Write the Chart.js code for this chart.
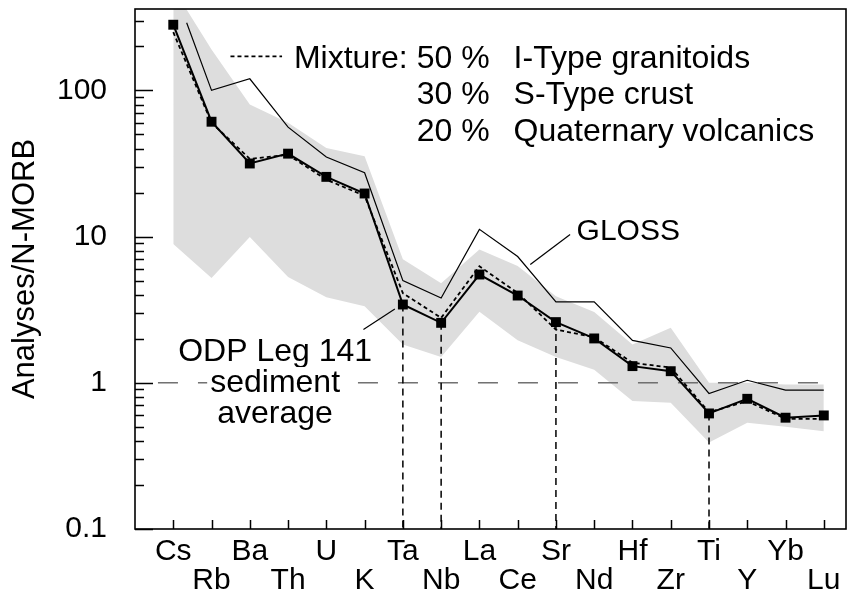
<!DOCTYPE html>
<html>
<head>
<meta charset="utf-8">
<script src="https://cdn.jsdelivr.net/npm/chart.js@4/dist/chart.umd.min.js"></script>
<style>
  html, body { margin: 0; padding: 0; background: #ffffff; }
  #wrap { width: 853px; height: 595px; position: relative; }
</style>
</head>
<body>
<div id="wrap"><canvas id="c" width="853" height="595"></canvas></div>
<script>
// ---- data ----
const elements = ['Cs','Rb','Ba','Th','U','K','Ta','Nb','La','Ce','Sr','Nd','Hf','Zr','Ti','Y','Yb','Lu'];
const odpAverage = [281, 61, 31.6, 36.9, 25.6, 19.7, 3.43, 2.57, 5.5, 3.95, 2.6, 2.01, 1.30, 1.20, 0.617, 0.777, 0.577, 0.598];
const mixture    = [250, 60, 34, 36.2, 24.5, 19.0, 4.1, 2.78, 6.27, 4.12, 2.31, 2.05, 1.37, 1.27, 0.63, 0.748, 0.567, 0.567];
const glossPositions = [0.35, 1, 2, 3, 4, 5, 6, 7, 8, 9, 10, 11, 12, 13, 14, 15, 16, 17];
const glossValues    = [290, 100, 120, 56, 35, 27.3, 5.0, 3.8, 11.2, 7.3, 3.58, 3.58, 1.95, 1.73, 0.845, 1.04, 0.89, 0.89];
const rangeUpper = [500, 190, 80, 60, 40.4, 35.4, 7.0, 4.8, 8.15, 6.3, 3.9, 3.05, 1.83, 2.38, 1.0, 1.0, 0.975, 0.975];
const rangeLower = [8.9, 5.2, 9.95, 5.3, 3.85, 3.34, 1.83, 1.5, 3.06, 1.95, 1.5, 1.23, 0.75, 0.73, 0.39, 0.533, 0.5, 0.467];
const dropLineElements = ['Ta', 'Nb', 'Sr', 'Ti'];
const yTickValues = [0.1, 1, 10, 100];
const yTickLabels = ['0.1', '1', '10', '100'];
const referenceValue = 1;
const referenceSpan = [-0.4, 17.28];
const yMin = 0.1, yMax = 360;
const xMin = -1, xMax = 17.58;

const FONT = "'Liberation Sans', Arial, Helvetica, sans-serif";
const FS_LEG = 32;  // legend text
const FS_ODP = 32;  // ODP label
const FS_GL = 30;   // GLOSS label
const FS_Y = 30;    // y tick labels
const FS_T = 31;    // y title
const FS_X = 30;    // x tick labels

function pts(xs, ys) { return ys.map((v, i) => ({ x: xs[i], y: v })); }
const idx = elements.map((e, i) => i);

const datasets = [
  { label: 'upper', data: pts(idx, rangeUpper), fill: '+1', backgroundColor: '#dddddd',
    borderWidth: 0, borderColor: 'rgba(0,0,0,0)', pointRadius: 0, order: 20 },
  { label: 'lower', data: pts(idx, rangeLower), fill: false,
    borderWidth: 0, borderColor: 'rgba(0,0,0,0)', pointRadius: 0, order: 21 },
  { label: 'ref', data: referenceSpan.map(x => ({ x, y: referenceValue })), borderColor: '#666666',
    borderWidth: 1.4, borderDash: [20, 20], pointRadius: 0, fill: false, order: 15 }
];
dropLineElements.forEach(name => {
  const i = elements.indexOf(name);
  datasets.push({ label: 'drop ' + name, data: [{ x: i, y: odpAverage[i] }, { x: i, y: yMin }],
    borderColor: '#000', borderWidth: 1.5, borderDash: [7, 5], pointRadius: 0, fill: false, order: 12 });
});
datasets.push(
  { label: 'GLOSS', data: pts(glossPositions, glossValues), borderColor: '#000', borderWidth: 1.2,
    pointRadius: 0, fill: false, order: 8 },
  { label: 'Mixture', data: pts(idx, mixture), borderColor: '#000', borderWidth: 1.8, borderDash: [4, 3],
    pointRadius: 0, fill: false, order: 6 },
  { label: 'ODP Leg 141 sediment average', data: pts(idx, odpAverage), borderColor: '#000', borderWidth: 2,
    pointStyle: 'rect', pointRadius: 7, pointBackgroundColor: '#000', pointBorderColor: '#000', pointBorderWidth: 0,
    fill: false, order: 4 }
);

// annotation anchors in data space (x = element index, y = value)
const legendPercents = ['50 %', '30 %', '20 %'];
const legendNames = ['I-Type granitoids', 'S-Type crust', 'Quaternary volcanics'];
const notes = {
  legendLine: [[1.495, 170.8], [2.843, 170.8]],
  legendStart: 3.154,
  legendBaselines: [142.3, 80.1, 45.1],
  glossLine: [[10.37, 10.32], [9.33, 6.44]],
  glossText: { x: 10.539, y: 9.54, t: 'GLOSS' },
  odpLine: [[4.97, 2.31], [5.79, 3.2]],
  odpCenter: 2.661,
  odpText: [{ y: 1.42, t: 'ODP Leg 141' }, { y: 0.865, t: 'sediment' }, { y: 0.527, t: 'average' }]
};

const decoPlugin = {
  id: 'deco',
  afterDatasetsDraw(chart) {
    const { ctx, chartArea: a, scales: { x, y } } = chart;
    ctx.save();
    ctx.strokeStyle = '#000'; ctx.lineWidth = 1.5;
    ctx.beginPath();
    for (let p = -1; p <= 2; p++) {
      for (let m = 1; m <= 9; m++) {
        const v = m * Math.pow(10, p);
        if (v < yMin - 1e-9 || v > yMax) continue;
        const py = Math.round(y.getPixelForValue(v)) + 0.5;
        const len = m === 1 ? 18 : 9;
        ctx.moveTo(a.left, py); ctx.lineTo(a.left + len, py);
      }
    }
    elements.forEach((e, i) => {
      const px = Math.round(x.getPixelForValue(i)) + 0.5;
      ctx.moveTo(px, a.bottom); ctx.lineTo(px, a.bottom - 9);
    });
    ctx.stroke();
    ctx.lineWidth = 1.6;
    ctx.strokeRect(a.left, a.top, a.right - a.left, a.bottom - a.top);

    const P = (pt) => [x.getPixelForValue(pt[0]), y.getPixelForValue(pt[1])];
    ctx.fillStyle = '#000';
    ctx.textBaseline = 'alphabetic';
    // legend sample line
    ctx.lineWidth = 1.8; ctx.setLineDash([4, 3]);
    ctx.beginPath();
    let s = P(notes.legendLine[0]), e2 = P(notes.legendLine[1]);
    ctx.moveTo(s[0], s[1]); ctx.lineTo(e2[0], e2[1]); ctx.stroke();
    ctx.setLineDash([]);
    // legend text in columns
    ctx.font = FS_LEG + 'px ' + FONT;
    ctx.textAlign = 'left';
    const x0 = x.getPixelForValue(notes.legendStart);
    const xPct = x0 + ctx.measureText('Mixture: ').width;
    const xName = xPct + ctx.measureText('50 %').width + 24;
    notes.legendBaselines.forEach((v, r) => {
      const py = y.getPixelForValue(v);
      if (r === 0) ctx.fillText('Mixture:', x0, py);
      ctx.fillText(legendPercents[r], xPct, py);
      ctx.fillText(legendNames[r], xName, py);
    });
    // GLOSS label + leader
    ctx.lineWidth = 1.2;
    ctx.beginPath();
    s = P(notes.glossLine[0]); e2 = P(notes.glossLine[1]);
    ctx.moveTo(s[0], s[1]); ctx.lineTo(e2[0], e2[1]); ctx.stroke();
    ctx.font = FS_GL + 'px ' + FONT;
    let q = P([notes.glossText.x, notes.glossText.y]);
    ctx.fillText(notes.glossText.t, q[0], q[1]);
    // ODP label + leader
    ctx.beginPath();
    s = P(notes.odpLine[0]); e2 = P(notes.odpLine[1]);
    ctx.moveTo(s[0], s[1]); ctx.lineTo(e2[0], e2[1]); ctx.stroke();
    ctx.font = FS_ODP + 'px ' + FONT;
    ctx.textAlign = 'center';
    const cx = x.getPixelForValue(notes.odpCenter);
    notes.odpText.forEach(n => {
      const py = y.getPixelForValue(n.y);
      const w = ctx.measureText(n.t).width;
      ctx.fillStyle = '#fff';
      ctx.fillRect(cx - w / 2 - 3, py - FS_ODP * 0.78, w + 6, FS_ODP * 1.0);
      ctx.fillStyle = '#000';
      ctx.fillText(n.t, cx, py);
    });
    ctx.restore();
  }
};

Chart.defaults.font.family = FONT;
Chart.defaults.color = '#000';

new Chart(document.getElementById('c'), {
  type: 'line',
  data: { datasets },
  options: {
    responsive: false,
    animation: false,
    layout: { padding: { top: 9, right: 2, left: 0, bottom: 0 } },
    plugins: { legend: { display: false }, tooltip: { enabled: false } },
    elements: { line: { tension: 0 } },
    scales: {
      x: {
        type: 'linear', min: xMin, max: xMax,
        grid: { display: false, drawTicks: false },
        border: { display: false },
        afterBuildTicks: (sc) => { sc.ticks = elements.map((e, i) => ({ value: i })); },
        afterFit: (sc) => { sc.height = 66; sc.paddingLeft = 0; sc.paddingRight = 0; },
        ticks: {
          autoSkip: false, maxRotation: 0, padding: 8,
          font: { size: FS_X, lineHeight: 0.98 },
          callback: (v) => { const i = Math.round(v); return i % 2 === 0 ? [elements[i]] : ['', elements[i]]; }
        }
      },
      y: {
        type: 'logarithmic', min: yMin, max: yMax,
        grid: { display: false, drawTicks: false },
        border: { display: false },
        afterBuildTicks: (sc) => { sc.ticks = yTickValues.map(v => ({ value: v })); },
        afterFit: (sc) => { sc.width = 135; sc.paddingTop = 0; sc.paddingBottom = 0; },
        ticks: {
          autoSkip: false, padding: 28, font: { size: FS_Y },
          callback: (v) => { const k = yTickValues.findIndex(t => Math.abs(t - v) < 1e-9); return k >= 0 ? yTickLabels[k] : ''; }
        },
        title: { display: true, text: 'Analyses/N-MORB', font: { size: FS_T }, padding: { top: 7, bottom: 0 } }
      }
    }
  },
  plugins: [decoPlugin]
});
</script>
</body>
</html>
